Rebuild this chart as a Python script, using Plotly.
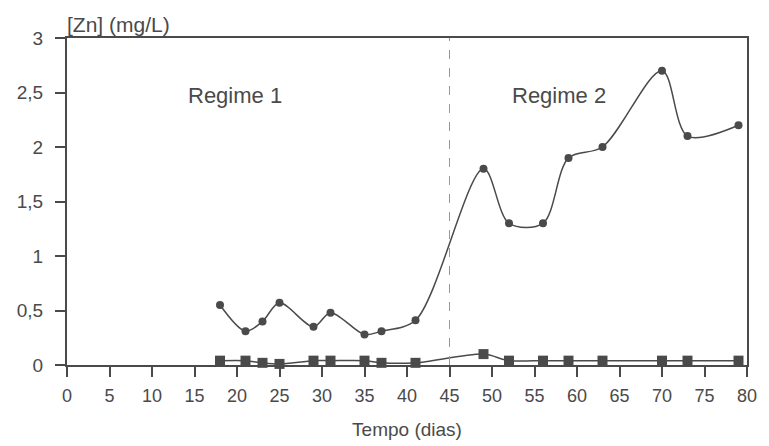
import plotly.graph_objects as go

days = [18, 21, 23, 25, 29, 31, 35, 37, 41, 49, 52, 56, 59, 63, 70, 73, 79]
zn_circles = [0.55, 0.31, 0.40, 0.57, 0.35, 0.48, 0.28, 0.31, 0.41, 1.80, 1.30, 1.30, 1.90, 2.00, 2.70, 2.10, 2.20]
zn_squares = [0.04, 0.04, 0.02, 0.01, 0.04, 0.04, 0.04, 0.02, 0.02, 0.10, 0.04, 0.04, 0.04, 0.04, 0.04, 0.04, 0.04]
x_ticks = list(range(0, 81, 5))
y_ticks = [0, 0.5, 1, 1.5, 2, 2.5, 3]
y_tick_labels = ["0", "0,5", "1", "1,5", "2", "2,5", "3"]
regime_split = 45

ink = "#4a4a4a"
font = "Liberation Sans, Arial, sans-serif"

fig = go.Figure()
fig.add_trace(go.Scatter(x=days, y=zn_squares, mode="lines+markers",
                         line=dict(color=ink, width=1.5, shape="spline", smoothing=0.8),
                         marker=dict(symbol="square", size=10, color=ink),
                         showlegend=False, cliponaxis=False))
fig.add_trace(go.Scatter(x=days, y=zn_circles, mode="lines+markers",
                         line=dict(color=ink, width=1.5, shape="spline", smoothing=0.9),
                         marker=dict(symbol="circle", size=8, color=ink),
                         showlegend=False, cliponaxis=False))

fig.add_shape(type="line", x0=regime_split, x1=regime_split, y0=0, y1=3,
              line=dict(color="#999999", width=1, dash="dash"))

fig.add_annotation(x=19.8, y=2.47, text="Regime 1", showarrow=False,
                   font=dict(size=22, color=ink, family=font))
fig.add_annotation(x=57.9, y=2.47, text="Regime 2", showarrow=False,
                   font=dict(size=22, color=ink, family=font))
fig.add_annotation(xref="paper", yref="paper", x=-0.003, y=1.0, xanchor="left", yanchor="bottom",
                   text="[Zn] (mg/L)", showarrow=False,
                   font=dict(size=21, color=ink, family=font))

fig.update_layout(
    width=769, height=446,
    margin=dict(l=67, r=22, t=38, b=81, autoexpand=False),
    paper_bgcolor="white", plot_bgcolor="white",
    font=dict(family=font, color=ink, size=18),
    xaxis=dict(range=[0, 80], tickvals=x_ticks, ticks="outside", ticklen=10, tickwidth=1.5,
               tickcolor=ink, showline=True, linecolor=ink, linewidth=2, mirror=True,
               showgrid=False, zeroline=False, ticklabelstandoff=3, automargin=False,
               tickfont=dict(size=18),
               title=dict(text="Tempo (dias)", font=dict(size=19), standoff=18)),
    yaxis=dict(range=[0, 3], tickvals=y_ticks, ticktext=y_tick_labels, ticks="outside",
               ticklen=10, tickwidth=1.5, tickcolor=ink, showline=True, linecolor=ink,
               linewidth=2, mirror=True, showgrid=False, zeroline=False, automargin=False,
               ticklabelstandoff=8, tickfont=dict(size=19)),
)

fig.write_html("out.html", config={"displayModeBar": False},
               post_script="document.body.style.margin='0';")
